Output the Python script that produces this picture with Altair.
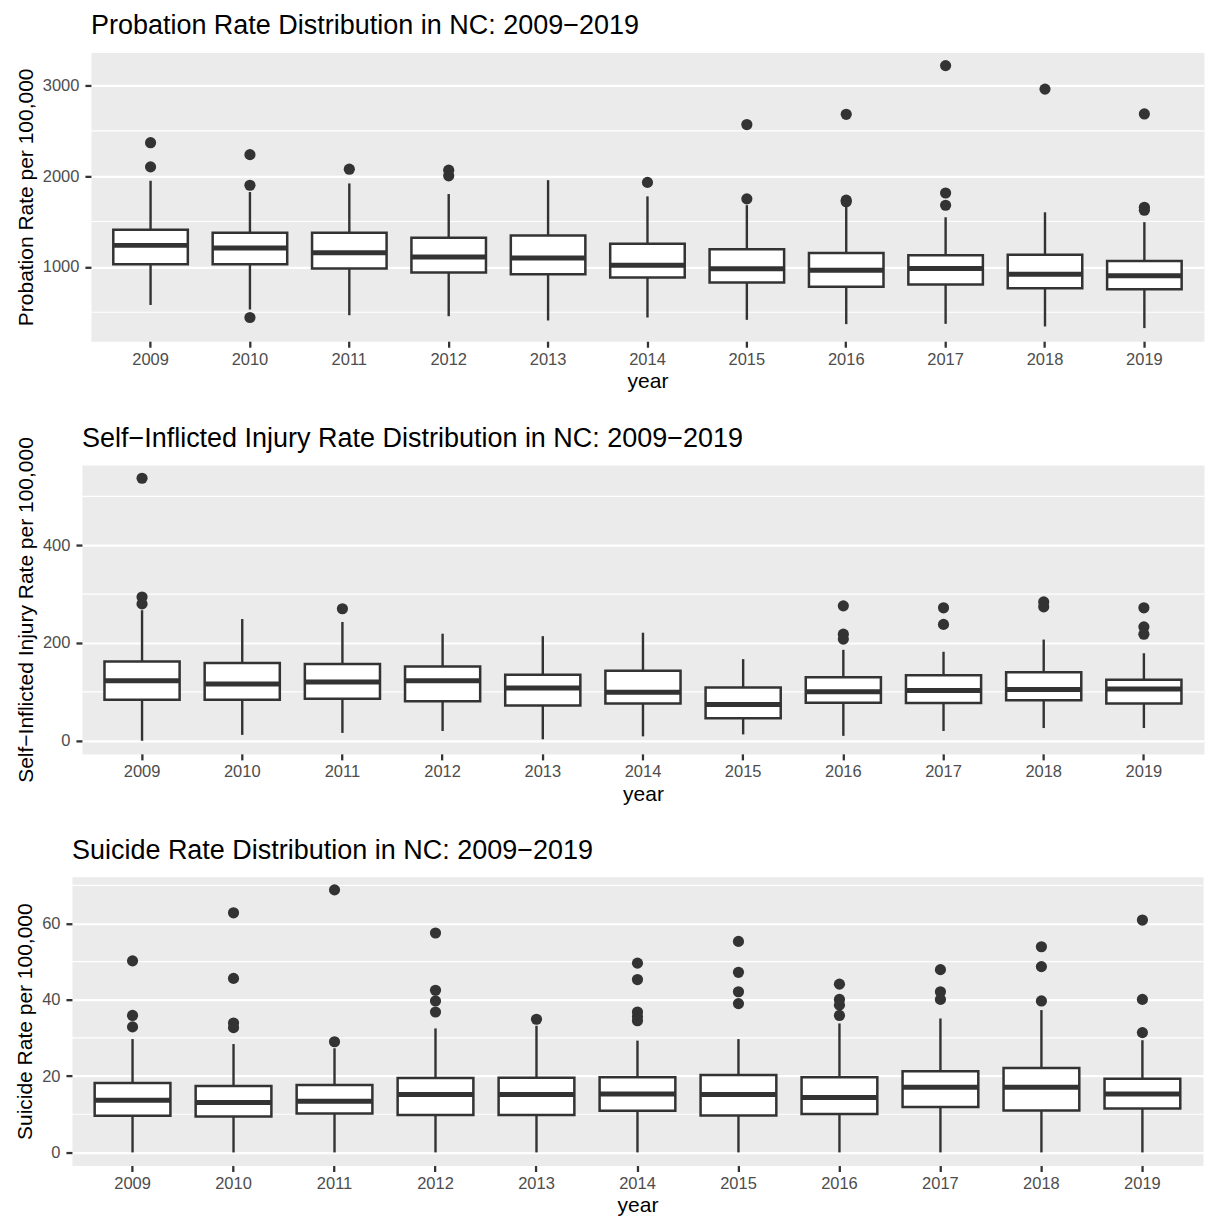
import altair as alt
import pandas as pd

YEARS = [str(y) for y in range(2009, 2020)]

# ---------- Panel 1: Probation ----------
PROB_LOW = [580, 530, 467, 456, 409, 442, 416, 369, 372, 343, 325]
PROB_Q1 = [1029, 1029, 982, 938, 920, 883, 828, 781, 807, 763, 752]
PROB_MED = [1237, 1208, 1157, 1109, 1099, 1018, 978, 964, 982, 920, 901]
PROB_Q3 = [1409, 1376, 1376, 1321, 1347, 1255, 1193, 1153, 1128, 1135, 1066]
PROB_HIGH = [1949, 1825, 1920, 1803, 1956, 1777, 1680, 1665, 1547, 1602, 1493]
PROB_OUT_YEAR = ["2009", "2009", "2010", "2010", "2010", "2011", "2012", "2012",
                 "2014", "2015", "2015", "2016", "2016", "2016", "2017", "2017",
                 "2017", "2018", "2019", "2019", "2019"]
PROB_OUT_VAL = [2369, 2102, 2237, 1900, 442, 2077, 2066, 2004,
                1931, 2569, 1750, 2682, 1735, 1718, 3219, 1814,
                1679, 2960, 2686, 1657, 1625]
PROB_TICKS = [1000, 2000, 3000]
PROB_MINOR = [500, 1500, 2500, 3500]

# ---------- Panel 2: Self-inflicted injury ----------
SELF_LOW = [0, 12, 16, 20, 3, 9, 13, 10, 20, 26, 26]
SELF_Q1 = [84, 84, 86, 81, 72, 76, 46, 78, 77, 83, 76]
SELF_MED = [123, 116, 120, 123, 108, 99, 74, 100, 103, 105, 106]
SELF_Q3 = [162, 159, 157, 152, 135, 143, 109, 130, 134, 140, 125]
SELF_HIGH = [267, 249, 243, 219, 214, 221, 167, 186, 182, 207, 179]
SELF_OUT_YEAR = ["2009", "2009", "2009", "2011", "2016", "2016", "2016",
                 "2017", "2017", "2018", "2018", "2019", "2019", "2019"]
SELF_OUT_VAL = [537, 294, 280, 270, 276, 218, 208,
                272, 238, 284, 274, 272, 233, 218]
SELF_TICKS = [0, 200, 400]
SELF_MINOR = [100, 300, 500]

# ---------- Panel 3: Suicide ----------
SUI_LOW = [0, 0, 0, 0, 0, 0, 0, 0, 0, 0, 0]
SUI_Q1 = [9.6, 9.4, 10.2, 9.8, 9.8, 10.9, 9.7, 10.1, 11.9, 11.0, 11.5]
SUI_MED = [13.7, 13.1, 13.4, 15.2, 15.2, 15.3, 15.2, 14.4, 17.1, 17.1, 15.3]
SUI_Q3 = [18.2, 17.4, 17.7, 19.5, 19.6, 19.7, 20.3, 19.7, 21.3, 22.1, 19.3]
SUI_HIGH = [29.7, 28.4, 27.3, 32.5, 33.2, 29.3, 29.7, 33.8, 35.1, 37.3, 29.4]
SUI_OUT_YEAR = ["2009", "2009", "2009",
                "2010", "2010", "2010", "2010",
                "2011", "2011",
                "2012", "2012", "2012", "2012",
                "2013",
                "2014", "2014", "2014", "2014", "2014",
                "2015", "2015", "2015", "2015",
                "2016", "2016", "2016", "2016",
                "2017", "2017", "2017",
                "2018", "2018", "2018",
                "2019", "2019", "2019"]
SUI_OUT_VAL = [50.2, 35.9, 32.9,
               62.8, 45.6, 33.9, 32.7,
               68.8, 29.0,
               57.5, 42.5, 39.7, 36.8,
               34.9,
               49.6, 45.3, 36.8, 35.6, 34.5,
               55.3, 47.2, 42.1, 39.0,
               44.1, 40.1, 38.6, 35.9,
               47.9, 42.1, 40.1,
               53.9, 48.7, 39.7,
               60.9, 40.1, 31.4]
SUI_TICKS = [0, 20, 40, 60]
SUI_MINOR = [10, 30, 50, 70]

DARK = "#333333"
FONT = "Liberation Sans"
PLOT_H = 289


def spacer():
    return alt.Chart(pd.DataFrame({"v": [0]})).mark_text(text="").encode(
        x=alt.value(0), y=alt.value(0)
    ).properties(width=1, height=1,
                 view=alt.ViewBackground(fill="transparent", stroke="transparent"))


def panel(title, ytitle, low, q1, med, q3, high, oyear, oval, ticks, minor, width,
          title_offset=12, height=PLOT_H):
    stats = pd.DataFrame(dict(year=YEARS, low=low, q1=q1, med=med, q3=q3, high=high))
    outs = pd.DataFrame(dict(year=oyear, value=oval))
    lo = min(min(low), min(oval))
    hi = max(max(high), max(oval))
    pad = (hi - lo) * 0.05
    dom = [lo - pad, hi + pad]
    minor_df = pd.DataFrame(dict(v=[m for m in minor if dom[0] <= m <= dom[1]]))
    box_w = 0.75 * width / (len(YEARS) + 0.2)

    xenc = alt.X("year:N", sort=YEARS,
                 scale=alt.Scale(type="band", domain=YEARS, paddingInner=0, paddingOuter=0.1),
                 axis=alt.Axis(title="year", labelAngle=0, bandPosition=0.5))
    yscale = alt.Scale(domain=dom, nice=False, zero=False)
    yaxis = alt.Axis(title=ytitle, values=ticks, format="d")

    grid = alt.Chart(minor_df).mark_rule(color="white", strokeWidth=1.2).encode(
        y=alt.Y("v:Q", scale=yscale, axis=yaxis))
    whisk = alt.Chart(stats).mark_rule(color=DARK, strokeWidth=2.4).encode(
        x=xenc, y=alt.Y("low:Q", scale=yscale, axis=yaxis), y2="high:Q")
    box = alt.Chart(stats).mark_bar(width=alt.RelativeBandSize(0.75), fill="white",
                                    stroke=DARK, strokeWidth=2.5).encode(
        x=xenc, y=alt.Y("q1:Q", scale=yscale, axis=yaxis), y2="q3:Q")
    medt = alt.Chart(stats).mark_tick(color=DARK, thickness=5, size=box_w, opacity=1).encode(
        x=xenc, y=alt.Y("med:Q", scale=yscale, axis=yaxis))
    pts = alt.Chart(outs).mark_circle(size=125, color=DARK, opacity=1).encode(
        x=xenc, y=alt.Y("value:Q", scale=yscale, axis=yaxis))

    layered = alt.layer(grid, whisk, box, medt, pts).properties(
        width=width, height=height,
        title=alt.TitleParams(title, anchor="start", frame="group", offset=title_offset))
    # a tiny spacer in front: rows then line up by the left edge of their y-axis title,
    # so the plot area starts further left when the tick labels are narrower (as in ggplot)
    return alt.hconcat(spacer(), layered, spacing=0)


p1 = panel("Probation Rate Distribution in NC: 2009\u22122019", "Probation Rate per 100,000",
           PROB_LOW, PROB_Q1, PROB_MED, PROB_Q3, PROB_HIGH, PROB_OUT_YEAR, PROB_OUT_VAL,
           PROB_TICKS, PROB_MINOR, width=1114)
p2 = panel("Self\u2212Inflicted Injury Rate Distribution in NC: 2009\u22122019",
           "Self\u2212Inflicted Injury Rate per 100,000",
           SELF_LOW, SELF_Q1, SELF_MED, SELF_Q3, SELF_HIGH, SELF_OUT_YEAR, SELF_OUT_VAL,
           SELF_TICKS, SELF_MINOR, width=1123, title_offset=-16)
p3 = panel("Suicide Rate Distribution in NC: 2009\u22122019", "Suicide Rate per 100,000",
           SUI_LOW, SUI_Q1, SUI_MED, SUI_Q3, SUI_HIGH, SUI_OUT_YEAR, SUI_OUT_VAL,
           SUI_TICKS, SUI_MINOR, width=1132)

chart = alt.vconcat(p1, p2, p3, spacing=31).properties(
    padding={"left": 3, "top": 3, "right": 0, "bottom": 0},
    background="white",
).configure_view(
    fill="#EBEBEB", stroke="transparent"
).configure_axis(
    domain=False, tickColor=DARK, tickWidth=2.3, tickSize=6,
    labelFont=FONT, labelFontSize=16.5, labelColor="#4D4D4D",
    titleFont=FONT, titleFontSize=21, titleFontWeight="normal", titleColor="black",
    gridColor="white", gridWidth=2.2, gridOpacity=1,
).configure_axisX(
    labelPadding=4, titlePadding=3,
).configure_axisY(
    labelPadding=6, titlePadding=6,
).configure_title(
    font=FONT, fontSize=27, fontWeight="normal", color="black",
)

chart.save("out.html", embed_options={"renderer": "svg", "actions": False})
